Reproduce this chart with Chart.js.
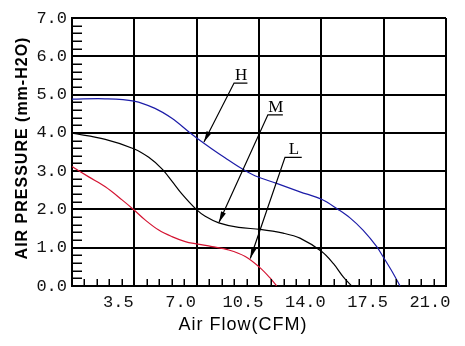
<!DOCTYPE html>
<html>
<head>
<meta charset="utf-8">
<script src="https://cdn.jsdelivr.net/npm/chart.js@4/dist/chart.umd.min.js"></script>
<style>
  html, body { margin: 0; padding: 0; background: #fff; }
  canvas { display: block; }
</style>
</head>
<body>
<canvas id="pq" width="465" height="346" style="width:465px;height:346px"></canvas>
<script>
// Fan P-Q curves: air flow (CFM) against static pressure (mm-H2O) at three speeds.
const flowH  = [0, 1.85, 3.48, 4.66, 5.61, 6.55, 7.02, 7.86, 8.59, 9.55, 10.27, 11.49, 12.80, 14.04, 14.94, 15.61, 16.34, 17.11, 17.46, 18.02, 18.42];
const pressH = [4.88, 4.89, 4.83, 4.64, 4.38, 4.03, 3.86, 3.58, 3.35, 3.06, 2.88, 2.68, 2.46, 2.26, 2.00, 1.78, 1.46, 1.03, 0.77, 0.34, 0];

const flowM  = [0, 1.87, 3.50, 4.31, 5.05, 5.61, 6.18, 6.98, 7.48, 8.24, 9.36, 10.57, 11.86, 12.80, 14.02, 14.67, 15.23, 15.70];
const pressM = [3.99, 3.83, 3.58, 3.36, 3.06, 2.74, 2.40, 2.00, 1.82, 1.65, 1.53, 1.48, 1.38, 1.25, 0.90, 0.59, 0.24, 0];

const flowL  = [0, 0.94, 1.87, 2.81, 3.50, 4.12, 4.87, 5.61, 6.36, 6.98, 7.86, 8.80, 9.73, 10.55, 11.12, 11.49];
const pressL = [3.12, 2.85, 2.59, 2.25, 1.98, 1.72, 1.46, 1.29, 1.16, 1.10, 1.03, 0.94, 0.77, 0.48, 0.21, 0];

const speedNames = ['H', 'M', 'L'];

// Axis ranges and tick spacing
const flowMax = 21, flowStep = 3.5, flowMinor = 0.7;
const pressMax = 7, pressStep = 1, pressMinor = 0.2;

const xTitle = 'Air Flow(CFM)';
const yTitle = 'AIR PRESSURE (mm-H2O)';

// Curve call-outs, in data units: arrow tip, elbow of the leader, underline length
const callouts = [
  { text: 'H', tip: [7.41, 3.76], elbow: [9.10, 5.30], len: 0.75 },
  { text: 'M', tip: [8.25, 1.66], elbow: [11.00, 4.47], len: 0.84 },
  { text: 'L', tip: [10.01, 0.72], elbow: [11.96, 3.36], len: 0.94 }
];

const pts = (xs, ys) => xs.map((x, i) => ({ x, y: ys[i] }));

const curveStyle = (color) => ({
  borderColor: color,
  borderWidth: 1.2,
  pointRadius: 0,
  fill: false,
  tension: 0.35
});

// Small inward ticks along the bottom and left edges
const minorTicks = {
  id: 'minorTicks',
  afterDraw(chart) {
    const { ctx, chartArea: a, scales: { x, y } } = chart;
    ctx.save();
    ctx.strokeStyle = '#000';
    ctx.lineWidth = 1.5;
    ctx.beginPath();
    const nx = Math.round(flowMax / flowMinor);
    for (let i = 1; i < nx; i++) {
      if (i % 5 === 0) continue;
      const px = Math.round(x.getPixelForValue(i * flowMinor)) + 0.25;
      ctx.moveTo(px, a.bottom);
      ctx.lineTo(px, a.bottom - 7);
    }
    const ny = Math.round(pressMax / pressMinor);
    for (let i = 1; i < ny; i++) {
      if (i % 5 === 0) continue;
      const py = Math.round(y.getPixelForValue(i * pressMinor)) + 0.25;
      ctx.moveTo(a.left, py);
      ctx.lineTo(a.left + 10, py);
    }
    ctx.stroke();
    ctx.restore();
  }
};

// Speed labels with leader lines and arrowheads
const calloutPlugin = {
  id: 'callouts',
  afterDatasetsDraw(chart) {
    const { ctx, scales: { x, y } } = chart;
    ctx.save();
    ctx.strokeStyle = '#000';
    ctx.fillStyle = '#000';
    ctx.lineWidth = 1.2;
    callouts.forEach(c => {
      const tx = x.getPixelForValue(c.tip[0]), ty = y.getPixelForValue(c.tip[1]);
      const ex = x.getPixelForValue(c.elbow[0]), ey = y.getPixelForValue(c.elbow[1]);
      const ux = x.getPixelForValue(c.elbow[0] + c.len);
      ctx.beginPath();
      ctx.moveTo(ux, ey);
      ctx.lineTo(ex, ey);
      ctx.lineTo(tx, ty);
      ctx.stroke();
      // arrowhead
      const dx = tx - ex, dy = ty - ey, d = Math.hypot(dx, dy);
      const ox = dx / d, oy = dy / d;
      const bx = tx - ox * 11, by = ty - oy * 11;
      ctx.beginPath();
      ctx.moveTo(tx, ty);
      ctx.lineTo(bx - oy * 2.6, by + ox * 2.6);
      ctx.lineTo(bx + oy * 2.6, by - ox * 2.6);
      ctx.closePath();
      ctx.fill();
      // label
      ctx.font = '17px "Liberation Serif"';
      ctx.textAlign = 'center';
      ctx.textBaseline = 'alphabetic';
      ctx.fillText(c.text, (ex + ux) / 2 + 0.5, ey - 3);
    });
    ctx.restore();
  }
};

// Axis titles
const axisTitles = {
  id: 'axisTitles',
  afterDraw(chart) {
    const { ctx, chartArea: a } = chart;
    ctx.save();
    ctx.fillStyle = '#000';
    ctx.textBaseline = 'alphabetic';
    ctx.textAlign = 'center';
    ctx.letterSpacing = '1px';
    ctx.font = '18px "Liberation Sans"';
    ctx.fillText(xTitle, 243, 330);
    ctx.translate(27, (a.top + a.bottom) / 2 - 4);
    ctx.rotate(-Math.PI / 2);
    ctx.font = 'bold 16px "Liberation Sans"';
    ctx.fillText(yTitle, 0, 0);
    ctx.restore();
  }
};

new Chart(document.getElementById('pq'), {
  type: 'line',
  data: {
    datasets: [
      { label: speedNames[0], data: pts(flowH, pressH), ...curveStyle('#1c1ca8') },
      { label: speedNames[1], data: pts(flowM, pressM), ...curveStyle('#000000') },
      { label: speedNames[2], data: pts(flowL, pressL), ...curveStyle('#d41432') }
    ]
  },
  options: {
    responsive: false,
    devicePixelRatio: 1,
    animation: false,
    events: [],
    layout: { padding: { top: 18, right: 19, left: 0, bottom: 0 } },
    plugins: { legend: { display: false }, tooltip: { enabled: false } },
    scales: {
      x: {
        type: 'linear',
        min: 0,
        max: flowMax,
        grid: { color: '#000', lineWidth: 2, drawTicks: false },
        border: { color: '#000', width: 2 },
        ticks: {
          stepSize: flowStep,
          padding: 6,
          labelOffset: -16,
          color: '#111',
          font: { family: '"Liberation Mono"', size: 17 },
          callback: v => (v === 0 ? '' : v.toFixed(1))
        },
        afterFit(s) { s.height = 60; s.paddingLeft = 0; s.paddingRight = 0; }
      },
      y: {
        type: 'linear',
        min: 0,
        max: pressMax,
        grid: { color: '#000', lineWidth: 2, drawTicks: false },
        border: { color: '#000', width: 2 },
        ticks: {
          stepSize: pressStep,
          padding: 5,
          color: '#111',
          font: { family: '"Liberation Mono"', size: 17 },
          callback: v => v.toFixed(1)
        },
        afterFit(s) { s.width = 72; s.paddingTop = 0; s.paddingBottom = 0; }
      }
    }
  },
  plugins: [minorTicks, calloutPlugin, axisTitles]
});
</script>
</body>
</html>
